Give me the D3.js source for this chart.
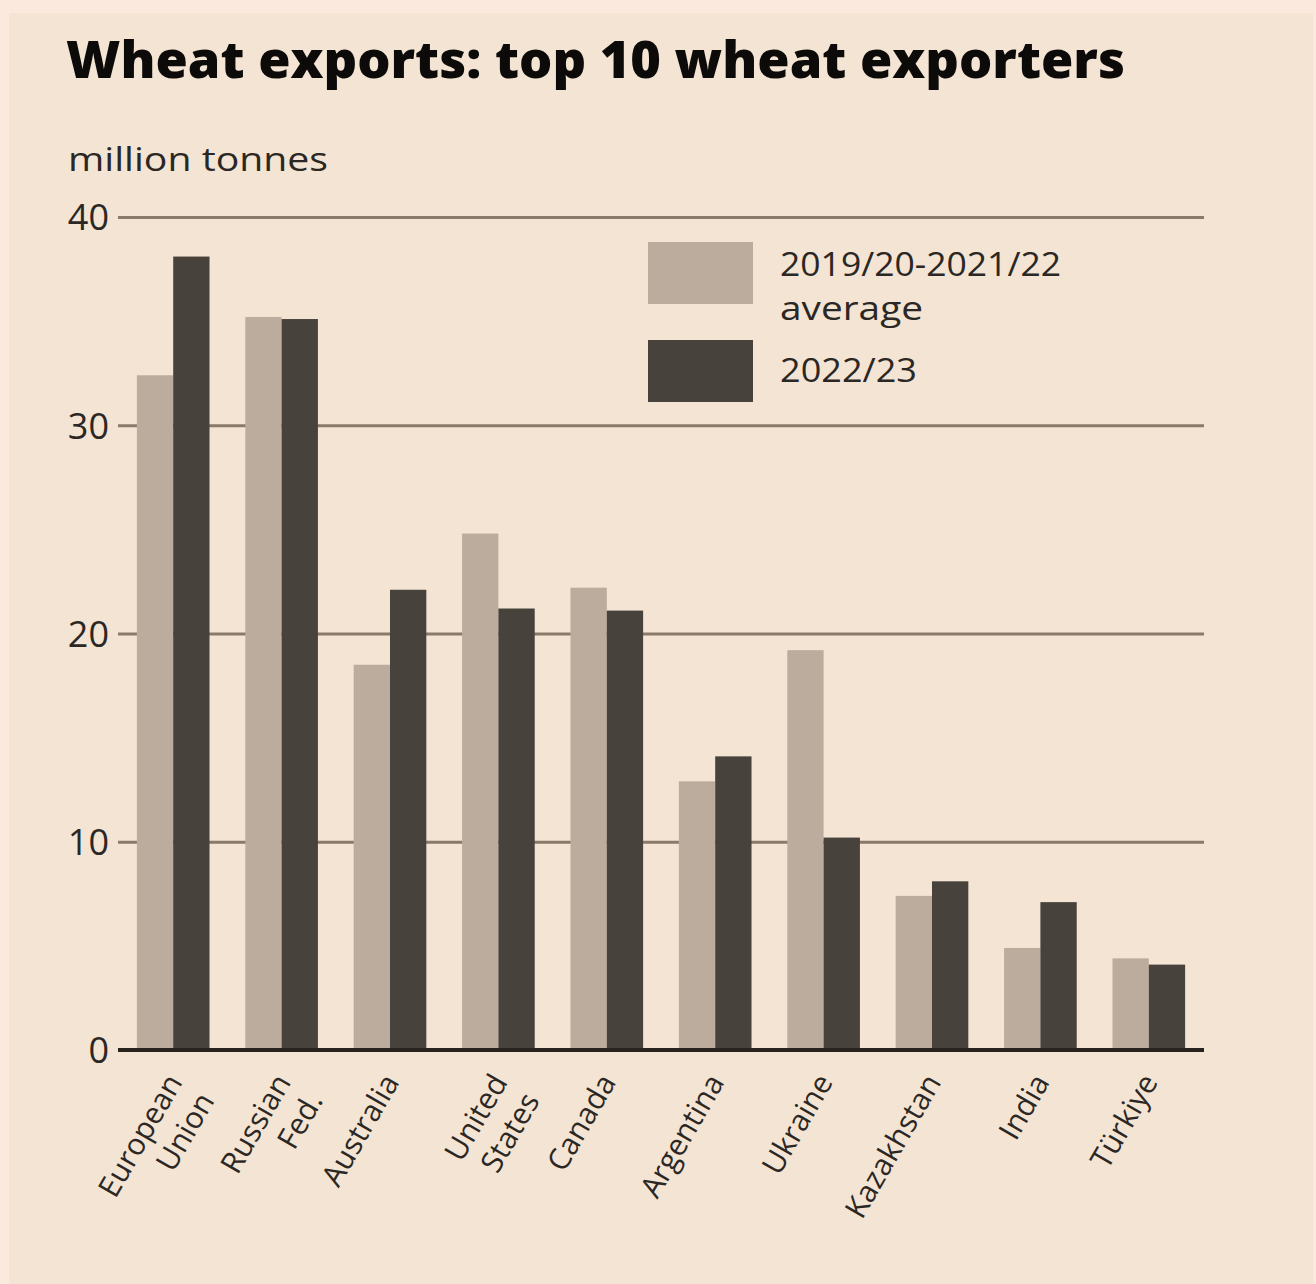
<!DOCTYPE html>
<html>
<head>
<meta charset="utf-8">
<script src="https://cdn.jsdelivr.net/npm/d3@7"></script>
<style>
  html, body { margin: 0; padding: 0; background: #fbe9dd; }
  svg { display: block; }
  text { font-family: "Open Sans", "Noto Sans", sans-serif; fill: #2b2724; }
</style>
</head>
<body>
<svg id="chart" width="1316" height="1284"></svg>
<script>
const categories = [
  ["European", "Union"],
  ["Russian", "Fed."],
  ["Australia"],
  ["United", "States"],
  ["Canada"],
  ["Argentina"],
  ["Ukraine"],
  ["Kazakhstan"],
  ["India"],
  ["Türkiye"]
];
const seriesNames = ["2019/20-2021/22 average", "2022/23"];
const average2019_2022 = [32.4, 35.2, 18.5, 24.8, 22.2, 12.9, 19.2, 7.4, 4.9, 4.4];
const exports2022_23   = [38.1, 35.1, 22.1, 21.2, 21.1, 14.1, 10.2, 8.1, 7.1, 4.1];
const yTicks = [0, 10, 20, 30, 40];

(function () {
const colors = ["#bbac9d", "#47423b"];

const svg = d3.select("#chart");
const W = 1316, H = 1284;

svg.append("rect").attr("x", 0).attr("y", 0).attr("width", W).attr("height", H).attr("fill", "#fbe9dd");
svg.append("rect").attr("x", 9).attr("y", 13).attr("width", 1304).attr("height", H - 13).attr("fill", "#f3e4d3");

const pLeft = 118, pRight = 1204, pTop = 217, pBottom = 1050;

const keys = categories.map(c => c.join(" "));
const x0 = d3.scaleBand().domain(keys).range([pLeft + 1, pRight - 1]).paddingInner(0.33).paddingOuter(0.165);
const x1 = d3.scaleBand().domain(seriesNames).range([0, x0.bandwidth()]);
const y = d3.scaleLinear().domain([0, 40]).range([pBottom, pTop]);

svg.append("text")
  .attr("x", 66).attr("y", 78)
  .attr("font-size", 51).attr("font-weight", 800)
  .attr("textLength", 1059).attr("lengthAdjust", "spacingAndGlyphs")
  .style("fill", "#0d0b0a")
  .text("Wheat exports: top 10 wheat exporters");

svg.append("text")
  .attr("x", 68).attr("y", 171)
  .attr("font-size", 33).attr("font-weight", 400)
  .attr("textLength", 260).attr("lengthAdjust", "spacingAndGlyphs")
  .text("million tonnes");

const yAxis = d3.axisLeft(y).tickValues(yTicks).tickSize(-(pRight - pLeft)).tickFormat(d3.format("d"));
const gAxis = svg.append("g").attr("transform", `translate(${pLeft},0)`).call(yAxis);
gAxis.select(".domain").remove();
gAxis.selectAll(".tick line").attr("stroke", "#8a7a6b").attr("stroke-width", 3);
gAxis.selectAll(".tick text")
  .attr("x", -9).attr("dy", "0.36em").attr("font-size", 36).attr("font-family", "Open Sans, Noto Sans, sans-serif")
  .style("fill", "#2b2724");
gAxis.selectAll(".tick").filter(d => d === 0).select("line").remove();

const data = keys.map((k, i) => ({ key: k, values: [average2019_2022[i], exports2022_23[i]] }));
const groups = svg.append("g").selectAll("g").data(data).join("g")
  .attr("transform", d => `translate(${x0(d.key)},0)`);
groups.selectAll("rect").data(d => d.values.map((v, j) => ({ s: seriesNames[j], v, j })))
  .join("rect")
  .attr("x", d => x1(d.s))
  .attr("width", x1.bandwidth())
  .attr("y", d => y(d.v))
  .attr("height", d => y(0) - y(d.v))
  .attr("fill", d => colors[d.j]);

svg.append("line")
  .attr("x1", pLeft).attr("x2", pRight).attr("y1", y(0)).attr("y2", y(0))
  .attr("stroke", "#28221e").attr("stroke-width", 4);

const lab = svg.append("g").selectAll("text").data(categories).join("text")
  .attr("transform", (d, i) => `translate(${x0(keys[i]) + x0.bandwidth() / 2 + 10},${y(0) + 32}) rotate(-60)`)
  .attr("text-anchor", "end")
  .attr("font-size", 30);
lab.selectAll("tspan").data(d => d).join("tspan")
  .attr("x", 0)
  .attr("dy", (d, i) => i === 0 ? 0 : 37)
  .text(d => d);

const legendLines = [
  [{ t: "2019/20-2021/22", w: 281, y: 276 }, { t: "average", w: 143, y: 320 }],
  [{ t: "2022/23", w: 137, y: 382 }]
];
const lg = svg.append("g").selectAll("g").data(seriesNames).join("g");
lg.append("rect")
  .attr("x", 648).attr("y", (d, i) => i === 0 ? 242 : 340)
  .attr("width", 105).attr("height", 62).attr("fill", (d, i) => colors[i]);
lg.selectAll("text").data((d, i) => legendLines[i]).join("text")
  .attr("x", 780).attr("y", d => d.y)
  .attr("font-size", 32)
  .attr("textLength", d => d.w).attr("lengthAdjust", "spacingAndGlyphs")
  .text(d => d.t);
})();
</script>
</body>
</html>
